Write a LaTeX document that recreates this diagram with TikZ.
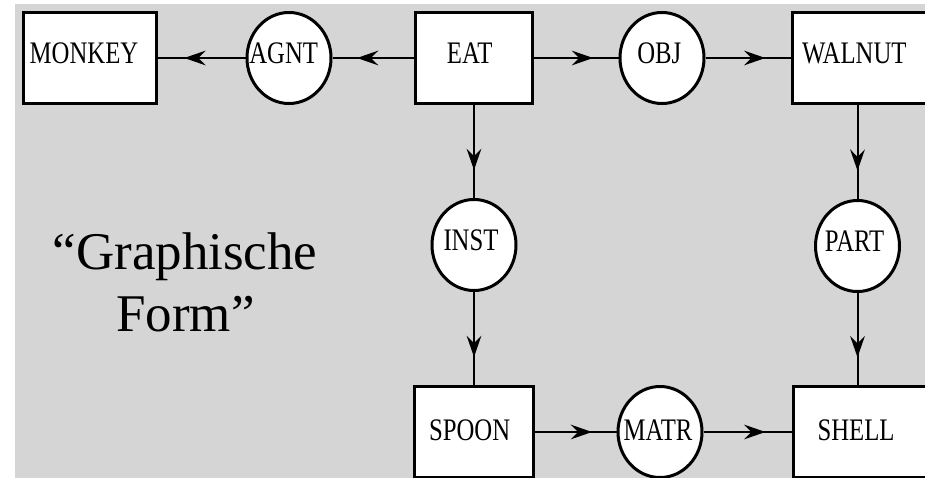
\documentclass[tikz,border=0pt]{standalone}
\usepackage{fontspec}
\setmainfont{Liberation Serif}
\newfontfamily\conceptfont[FakeStretch=0.79]{Liberation Serif}
\usetikzlibrary{arrows.meta,decorations.markings,shapes.geometric}

% label inside a concept or relation node, nudged left by half of #1
\newcommand\cw[2][6.5pt]{\makebox[0pt]{#2\hspace*{#1}}}

\definecolor{panelgray}{RGB}{213,213,213}

\begin{document}
\begin{tikzpicture}[x=0.75pt,y=-0.75pt,
  nodetext/.style={font=\conceptfont\fontsize{23.5}{23.5}\selectfont, text depth=5pt},
  toprow/.style={text height=13pt},
  bottomrow/.style={text height=17.5pt},
  concept/.style={nodetext, draw, line width=2.25pt, fill=white, rectangle,
    inner sep=0pt, minimum height=68.25pt},
  relation/.style={nodetext, draw, line width=2.25pt, fill=white, ellipse,
    inner sep=0pt, minimum width=63pt, minimum height=68.25pt},
  midarrow/.style={line width=1.5pt, postaction={decorate},
    decoration={markings, mark=at position 0.7 with
      {\arrow{Stealth[length=16pt,width=11pt,inset=5.5pt]}}}},
  bigtext/.style={font=\fontsize{39.75}{46.5}\selectfont, inner sep=0pt}
]
\useasboundingbox (0,0) rectangle (925,478);
\clip (0,0) rectangle (925,478);

% backdrop
\fill[panelgray] (15,4) rectangle (925,478);

% concepts
\node[concept, toprow, minimum width=99.75pt] (monkey) at (90,58) {\cw[9pt]{MONKEY}};
\node[concept, toprow, minimum width=87.75pt] (eat) at (474,58) {\cw{EAT}};
\node[concept, toprow, minimum width=102.75pt] (walnut) at (861,58) {\cw[10pt]{WALNUT}};
\node[concept, bottomrow, minimum width=89.25pt] (spoon) at (474,432) {\cw{SPOON}};
\node[concept, bottomrow, minimum width=102.75pt] (shell) at (862,432) {\cw[9pt]{SHELL}};

% relations
\node[relation, toprow] (agnt) at (289,58) {\cw[8pt]{AGNT}};
\node[relation, toprow] (obj) at (662,58) {\cw[4pt]{OBJ}};
\node[relation, toprow] (inst) at (474,245) {\cw[4.5pt]{INST}};
\node[relation, toprow] (part) at (857.5,246) {\cw[4.5pt]{PART}};
\node[relation, bottomrow] (matr) at (660,432) {\cw[3pt]{MATR}};

% connectors
\draw[midarrow] (eat) -- (agnt);
\draw[midarrow] (agnt) -- (monkey);
\draw[midarrow] (eat) -- (obj);
\draw[midarrow] (obj) -- (walnut);
\draw[midarrow] (eat) -- (inst);
\draw[midarrow] (inst) -- (spoon);
\draw[midarrow] (part |- walnut.south) -- (part);
\draw[midarrow] (part) -- (part |- shell.north);
\draw[midarrow] (spoon) -- (matr);
\draw[midarrow] (matr) -- (shell);

% caption
\node[bigtext, anchor=base] (captionA) at (185,269) {“Graphische};
\node[bigtext, anchor=base] (captionB) at (185.5,331) {Form”};
\end{tikzpicture}
\end{document}
